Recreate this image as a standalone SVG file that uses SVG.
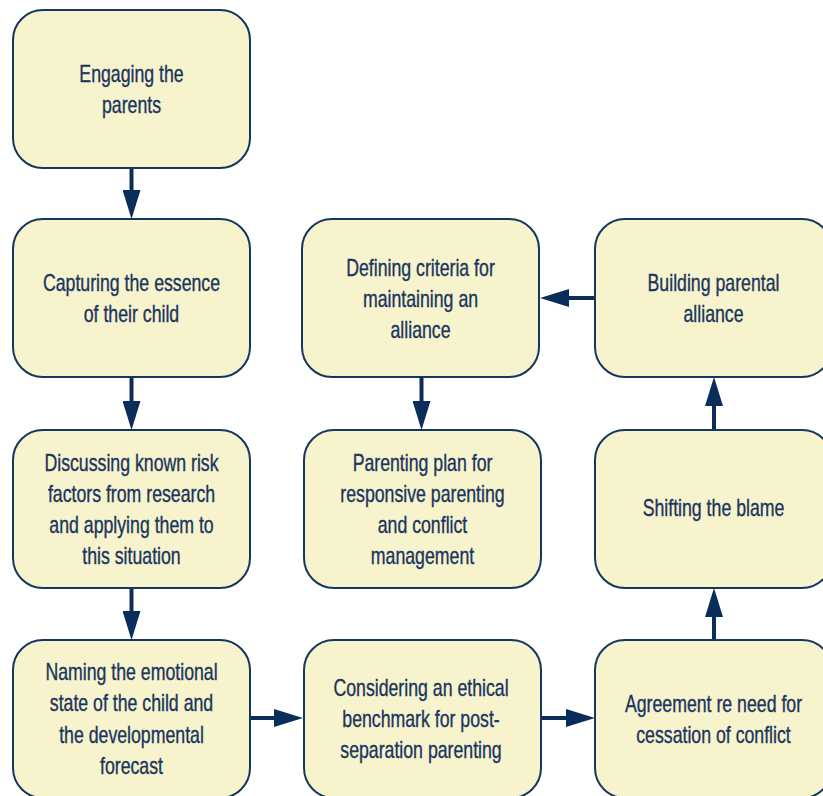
<svg xmlns="http://www.w3.org/2000/svg" width="823" height="796" viewBox="0 0 823 796">
<defs>
<style>
.box{fill:#f7f3cc;stroke:#14365f;stroke-width:2}
.t{font-family:"Liberation Sans",Arial,sans-serif;font-size:23px;fill:#1a3560;stroke:#1a3560;stroke-width:0.35;text-anchor:middle}
.c{stroke:#0b2d5a;stroke-width:4;fill:none;marker-end:url(#ah)}
</style>
<marker id="ah" markerUnits="userSpaceOnUse" markerWidth="30" markerHeight="18" refX="14" refY="9" orient="auto" viewBox="0 0 30 18">
<path d="M0,0 L29,9 L0,18 Z" fill="#0b2d5a"/>
</marker>
</defs>
<rect width="823" height="796" fill="#ffffff"/>
<g id="connectors">
<path class="c" d="M131.5,168 V204"/>
<path class="c" d="M131.5,377 V415"/>
<path class="c" d="M131.5,588 V625"/>
<path class="c" d="M251,718 H288"/>
<path class="c" d="M542,718 H580"/>
<path class="c" d="M714,640 V603"/>
<path class="c" d="M714,430 V392"/>
<path class="c" d="M595,298 H555"/>
<path class="c" d="M421.5,377 V415"/>
</g>
<g id="n1"><rect class="box" x="13" y="10" width="237" height="158" rx="30"/>
<text class="t" transform="matrix(.77 0 0 1 131.5 82)">Engaging the</text><text class="t" transform="matrix(.77 0 0 1 131.5 113)">parents</text></g>
<g id="n2"><rect class="box" x="13" y="219" width="237" height="158" rx="30"/>
<text class="t" transform="matrix(.77 0 0 1 131.5 291)">Capturing the essence</text><text class="t" transform="matrix(.77 0 0 1 131.5 322)">of their child</text></g>
<g id="n3"><rect class="box" x="13" y="430" width="237" height="158" rx="30"/>
<text class="t" transform="matrix(.77 0 0 1 131.5 471)">Discussing known risk</text><text class="t" transform="matrix(.77 0 0 1 131.5 502)">factors from research</text><text class="t" transform="matrix(.77 0 0 1 131.5 533)">and applying them to</text><text class="t" transform="matrix(.77 0 0 1 131.5 564)">this situation</text></g>
<g id="n4"><rect class="box" x="13" y="640" width="237" height="158" rx="30"/>
<text class="t" transform="matrix(.77 0 0 1 131.5 680)">Naming the emotional</text><text class="t" transform="matrix(.77 0 0 1 131.5 711)">state of the child and</text><text class="t" transform="matrix(.77 0 0 1 131.5 743)">the developmental</text><text class="t" transform="matrix(.77 0 0 1 131.5 774)">forecast</text></g>
<g id="n5"><rect class="box" x="304" y="640" width="237" height="158" rx="30"/>
<text class="t" transform="matrix(.77 0 0 1 421 696)">Considering an ethical</text><text class="t" transform="matrix(.77 0 0 1 421 727)">benchmark for post-</text><text class="t" transform="matrix(.77 0 0 1 421 758)">separation parenting</text></g>
<g id="n6"><rect class="box" x="595" y="640" width="237" height="158" rx="30"/>
<text class="t" transform="matrix(.77 0 0 1 713.5 712)">Agreement re need for</text><text class="t" transform="matrix(.77 0 0 1 713.5 743)">cessation of conflict</text></g>
<g id="n7"><rect class="box" x="595" y="430" width="237" height="158" rx="30"/>
<text class="t" transform="matrix(.77 0 0 1 713.5 516)">Shifting the blame</text></g>
<g id="n8"><rect class="box" x="595" y="219" width="237" height="158" rx="30"/>
<text class="t" transform="matrix(.77 0 0 1 713.5 291)">Building parental</text><text class="t" transform="matrix(.77 0 0 1 713.5 322)">alliance</text></g>
<g id="n9"><rect class="box" x="302" y="219" width="237" height="158" rx="30"/>
<text class="t" transform="matrix(.77 0 0 1 420.5 276)">Defining criteria for</text><text class="t" transform="matrix(.77 0 0 1 420.5 307)">maintaining an</text><text class="t" transform="matrix(.77 0 0 1 420.5 338)">alliance</text></g>
<g id="n10"><rect class="box" x="304" y="430" width="237" height="158" rx="30"/>
<text class="t" transform="matrix(.77 0 0 1 422.5 471)">Parenting plan for</text><text class="t" transform="matrix(.77 0 0 1 422.5 502)">responsive parenting</text><text class="t" transform="matrix(.77 0 0 1 422.5 533)">and conflict</text><text class="t" transform="matrix(.77 0 0 1 422.5 564)">management</text></g>
</svg>
